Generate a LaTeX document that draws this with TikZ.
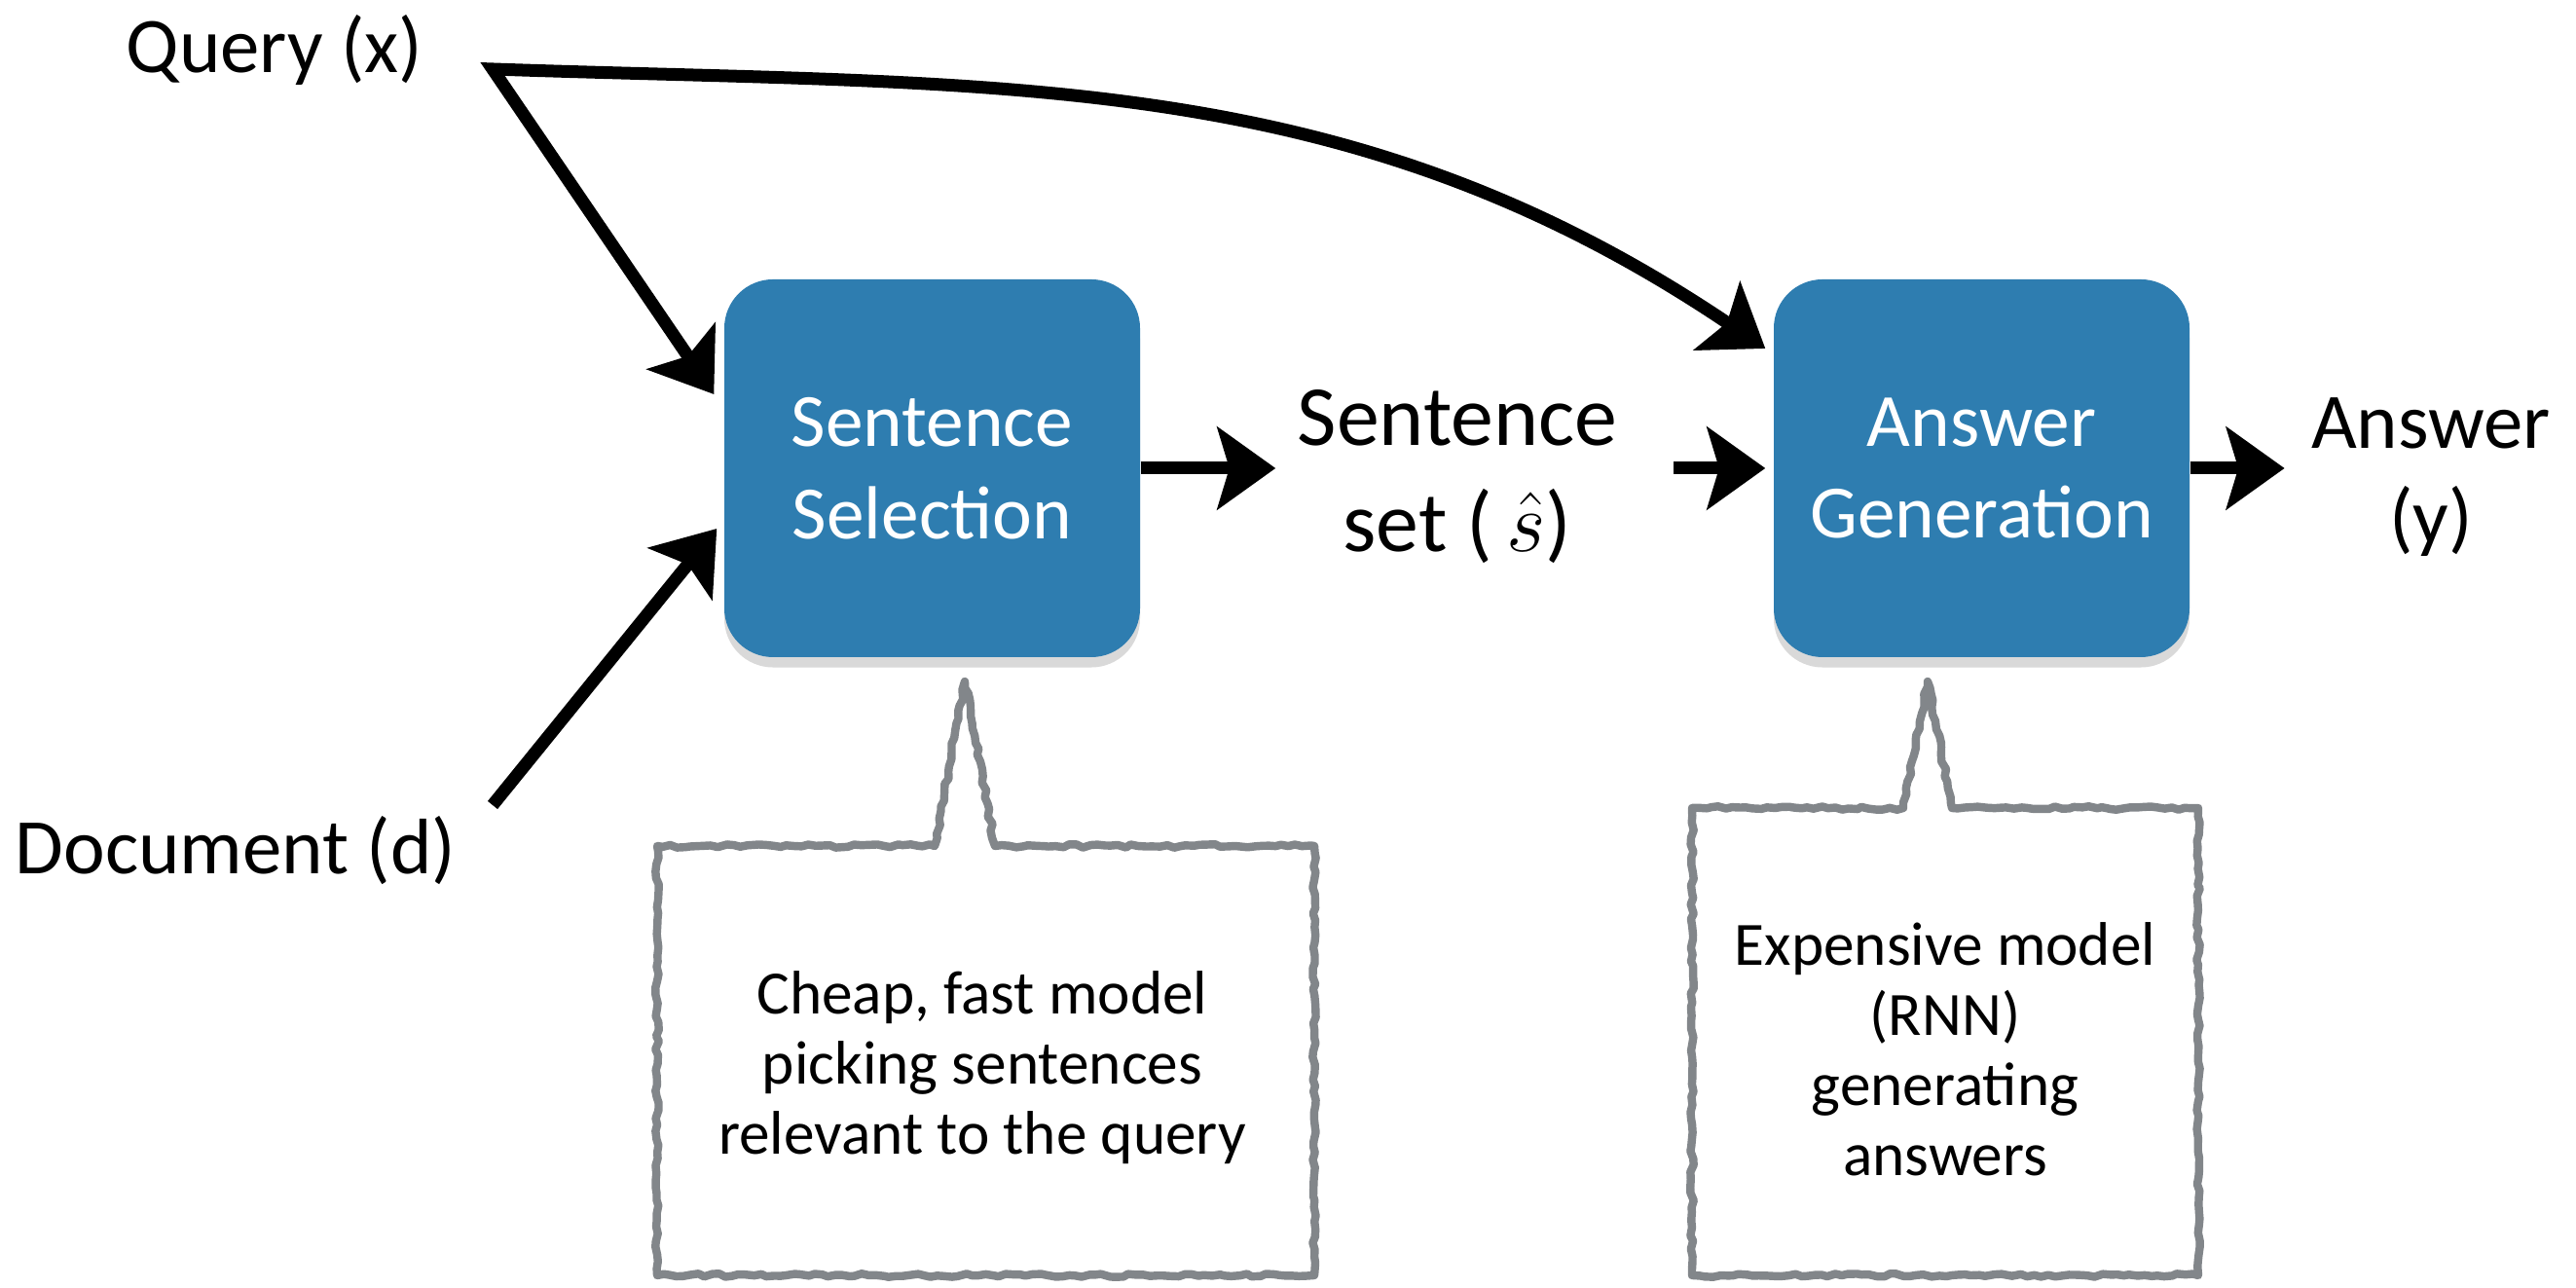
\documentclass[tikz,border=0pt]{standalone}
\usepackage{fontspec}
\setmainfont{Carlito}
\usetikzlibrary{arrows.meta,shadows,decorations.pathmorphing}
\definecolor{boxblue}{RGB}{46,125,176}
\definecolor{notegray}{RGB}{130,134,138}
\tikzset{
  stage/.style = {
    fill=boxblue, text=white, rounded corners=0.5cm,
    minimum width=4.27cm, minimum height=3.88cm, align=center,
    font=\fontsize{22}{27}\selectfont,
    drop shadow={shadow xshift=0pt,shadow yshift=-3pt,opacity=0.3}
  },
  textlabel/.style = {align=center, font=\fontsize{23}{28}\selectfont},
  notetext/.style = {align=center, font=\fontsize{18}{20.5}\selectfont},
  flow/.style = {line width=3.7pt, ->},
  notebox/.style = {
    notegray, line width=2.4pt, line join=round,
    decorate, decoration={random steps,segment length=2pt,amplitude=0.5pt}
  }
}
\tikzset{>={Stealth[length=17pt,width=24pt,inset=3.5pt]}}

\begin{document}
\begin{tikzpicture}
  \useasboundingbox (0,0) rectangle (26.46,13.23);
  \pgfmathsetseed{7}
  \node[textlabel] (query) at (2.82,12.72) {Query (x)};
  \node[textlabel] (doc) at (2.42,4.49) {Document (d)};
  \node[stage] (ss) at (9.575,8.42) {Sentence\\Selection};
  \node[stage] (ag) at (20.355,8.42) {Answer\\Generation};
  \node[textlabel, font=\fontsize{25}{31}\selectfont] (sset) at (14.97,8.33) {Sentence\\set (\,$\hat{s}$)};
  \node[textlabel] (ans) at (24.97,8.33) {Answer\\(y)};
  \coordinate (qsplit) at (5.06,12.52);
  \coordinate (dstart) at (5.06,4.96);
  % inputs
  \draw[flow,<->,line join=miter] ([xshift=-0.1cm,yshift=0.76cm]ss.west) -- (qsplit)
    to[out=-2,in=146] ([xshift=-0.08cm,yshift=1.23cm]ag.west);
  \draw[flow] (dstart) -- ([xshift=-0.07cm,yshift=-0.62cm]ss.west);
  % pipeline
  \draw[flow] (ss.east) -- ([xshift=-0.1cm]ss.east -| sset.west);
  \draw[flow] ([xshift=0.45cm]ag.west -| sset.east) -- ([xshift=-0.08cm]ag.west);
  \draw[flow] (ag.east) -- ([xshift=-0.15cm]ag.east -| ans.west);
  % callouts
  \draw[notebox] (6.75,0.13) -- (6.75,4.54) -- (9.60,4.54) -- (9.91,6.23)
    -- (10.22,4.54) -- (13.50,4.54) -- (13.50,0.13) -- cycle;
  \draw[notebox] (17.38,0.13) -- (17.38,4.93) -- (19.55,4.93) -- (19.80,6.23)
    -- (20.05,4.93) -- (22.58,4.93) -- (22.58,0.13) -- cycle;
  \node[notetext] (cheap) at (10.09,2.26) {Cheap, fast model\\picking sentences\\relevant to the query};
  \node[notetext] (costly) at (19.98,2.45) {Expensive model\\(RNN)\\generating\\answers};
\end{tikzpicture}
\end{document}
